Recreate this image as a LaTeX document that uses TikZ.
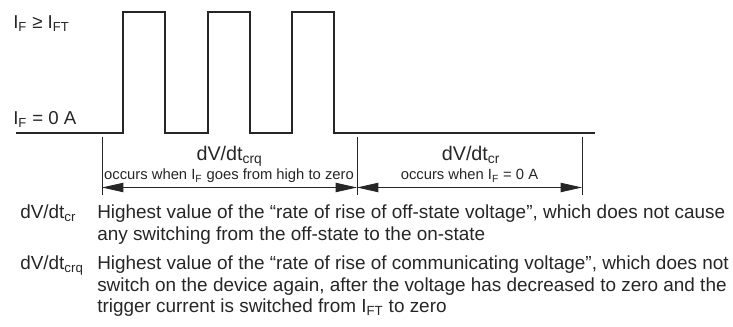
\documentclass[tikz,border=0pt]{standalone}
\usepackage{fontspec}
\setmainfont{Liberation Sans}
\usetikzlibrary{arrows.meta,positioning}
\newcommand{\lowidx}[1]{\textsubscript{#1}}
\newcommand{\deflines}[1]{\begin{tabular}[t]{@{}l@{}}#1\end{tabular}}

\tikzset{
  wave/.style={line width=1pt, black!85},
  dimline/.style={line width=0.6pt, black!85},
  dimarrow/.style={dimline, {Triangle[length=16pt,width=7pt]}-{Triangle[length=16pt,width=7pt]}},
  lvl/.style={anchor=base west, inner sep=0pt, font=\fontsize{14}{16}\selectfont},
  dimlabel/.style={anchor=base, inner sep=0pt, font=\fontsize{14.8}{16}\selectfont},
  dimnote/.style={anchor=base, inner sep=0pt, font=\fontsize{11.1}{13}\selectfont},
  legend/.style={anchor=base west, inner sep=0pt, font=\fontsize{14.2}{16.3}\selectfont},
}

\begin{document}
\begin{tikzpicture}[x=0.75pt, y=-0.75pt, black!85]
\useasboundingbox (0,0) rectangle (733,327);
% Trigger current waveform
\draw[wave] (16,133)
  \foreach \x in {123,208,292} { -- (\x,133) -- (\x,12) -- (\x+42,12) -- (\x+42,133) }
  -- (595,133);
\node[lvl] (high) at (13,29) {I\lowidx{F} ≥ I\lowidx{FT}};
\node[lvl] (zero) at (13,125) {I\lowidx{F} = 0 A};
% Dimension lines
\coordinate (ta) at (102,137);
\coordinate (tb) at (357,137);
\coordinate (tc) at (582,137);
\coordinate (ba) at (102,195);
\coordinate (bb) at (357,195);
\coordinate (bc) at (582,195);
\coordinate (aa) at (102,187.5);
\coordinate (ab) at (357,187.5);
\coordinate (ac) at (582,187.5);
\draw[dimline] (ta) -- (ba);
\draw[dimline] (tb) -- (bb);
\draw[dimline] (tc) -- (bc);
\draw[dimarrow] (aa) -- (ab);
\draw[dimarrow] (ab) -- (ac);
\node[dimlabel] (crq) at (229.5,160.5) {dV/dt\lowidx{crq}};
\node[dimnote] (crqnote) at (229,180) {occurs when I\lowidx{F} goes from high to zero};
\node[dimlabel] (cr) at (471,160.5) {dV/dt\lowidx{cr}};
\node[dimnote] (crnote) at (469.5,180) {occurs when I\lowidx{F} = 0 A};
% Definitions
\node[legend] (symcr) at (20,219) {dV/dt\lowidx{cr}};
\node[legend] (defcr) at (97,219) {\deflines{Highest value of the “rate of rise of off-state voltage”, which does not cause\\any switching from the off-state to the on-state}};
\node[legend] (symcrq) at (20,269.5) {dV/dt\lowidx{crq}};
\node[legend] (defcrq) at (97,269.5) {\deflines{Highest value of the “rate of rise of communicating voltage”, which does not\\switch on the device again, after the voltage has decreased to zero and the\\trigger current is switched from I\lowidx{FT} to zero}};
\end{tikzpicture}
\end{document}
